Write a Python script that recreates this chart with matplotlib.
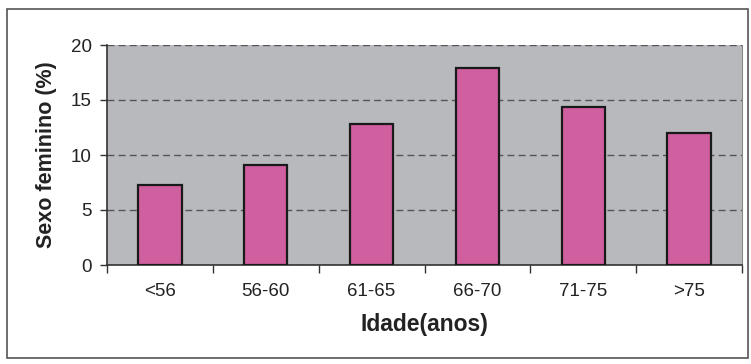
import matplotlib.pyplot as plt
from matplotlib.patches import Rectangle
import numpy as np

plt.rcParams['font.family'] = ['Liberation Sans', 'DejaVu Sans']

age_groups = ['<56', '56-60', '61-65', '66-70', '71-75', '>75']
female_pct = [7.3, 9.1, 12.8, 17.9, 14.4, 12.0]
y_ticks = [0, 5, 10, 15, 20]

fig = plt.figure(figsize=(7.51, 3.64), dpi=100)
ax = fig.add_axes([107 / 751, 1 - 265 / 364, (742 - 107) / 751, (265 - 45) / 364])

# outer frame around the whole chart
fig.patches.append(Rectangle((7 / 751, 6 / 364), 741 / 751, 349 / 364,
                             transform=fig.transFigure, fill=False,
                             edgecolor='#555555', linewidth=1.2))

x = np.arange(len(age_groups))
ax.set_facecolor('#B8B9BD')
ax.bar(x, female_pct, width=0.41, color='#D05FA0', edgecolor='#1a1a1a',
       linewidth=1.6, zorder=3)

ax.set_xlim(-0.5, len(age_groups) - 0.5)
ax.set_ylim(0, 20)
ax.set_yticks(y_ticks)
ax.yaxis.grid(True, linestyle=(0, (5, 3)), color='#555555', linewidth=1.0)
ax.set_axisbelow(True)

ax.set_xticks(x)
ax.set_xticklabels(age_groups, fontsize=13.5, color='#222222')
ax.tick_params(axis='x', length=0, pad=13)
ax.set_xticks(np.arange(len(age_groups) + 1) - 0.5, minor=True)
ax.tick_params(axis='x', which='minor', length=6, width=1, color='#333333', direction='out')
ax.tick_params(axis='y', length=5, width=1, color='#333333', labelsize=13.5,
               labelcolor='#222222', pad=6)

ax.spines['top'].set_visible(False)
ax.spines['right'].set_color('#888888')
ax.spines['right'].set_linewidth(0.8)
ax.spines['left'].set_color('#333333')
ax.spines['bottom'].set_color('#333333')
ax.spines['left'].set_linewidth(1.2)
ax.spines['bottom'].set_linewidth(1.2)

ax.set_xlabel('Idade(anos)', fontsize=16.5, fontweight='bold', color='#222222', labelpad=9)
ax.set_ylabel('Sexo feminino (%)', fontsize=15.5, fontweight='bold', color='#222222', labelpad=10)

fig.savefig('out.png', dpi=100)
